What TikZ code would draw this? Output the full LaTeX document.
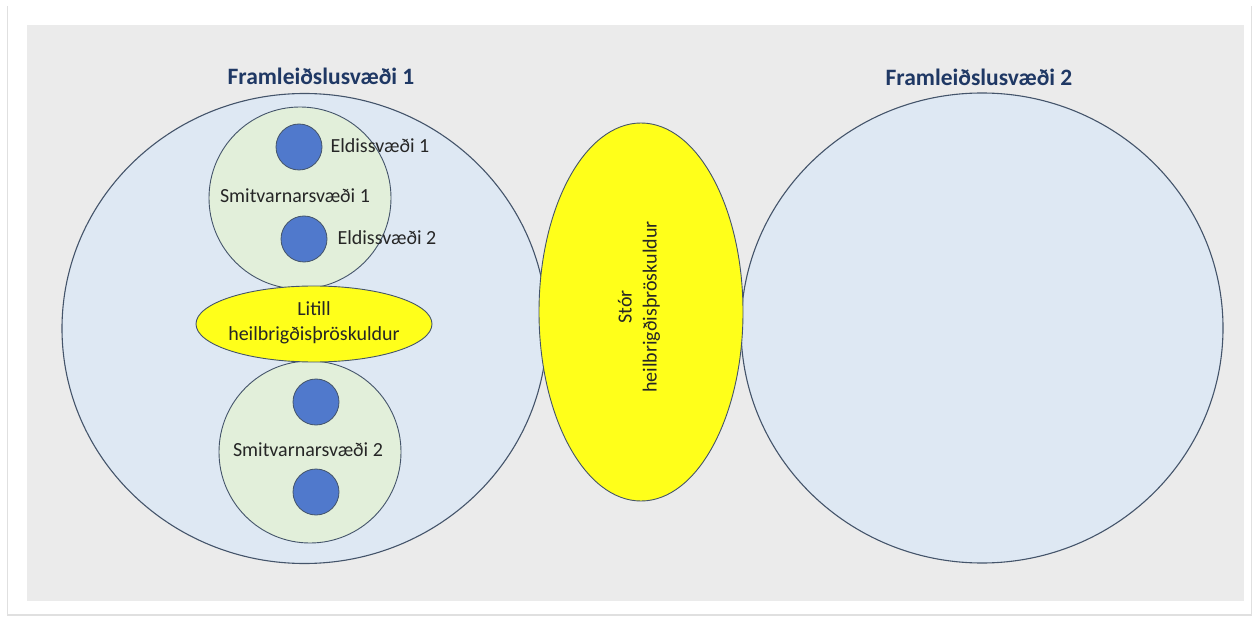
\documentclass[tikz,border=0pt]{standalone}
\usepackage{fontspec}
\setmainfont{Carlito}
\usetikzlibrary{shapes.geometric}
\definecolor{panel}{HTML}{EBEBEB}
\definecolor{zone}{HTML}{DEE8F3}
\definecolor{edge}{HTML}{44546A}
\definecolor{green}{HTML}{E2EFDA}
\definecolor{farm}{HTML}{5079CC}
\definecolor{yel}{HTML}{FFFF1A}
\definecolor{title}{HTML}{1F3864}
\begin{document}
\begin{tikzpicture}[x=1pt,y=-1pt,
  bigc/.style={ellipse,draw=edge,line width=1.1pt,fill=zone,minimum height=470pt,inner sep=0pt},
  smallc/.style={circle,draw=edge,line width=0.9pt,fill=green,minimum size=182pt,inner sep=0pt},
  farmc/.style={circle,draw=edge,line width=0.8pt,fill=farm,minimum size=46pt,inner sep=0pt},
  yell/.style={ellipse,draw=edge,line width=0.9pt,fill=yel,inner sep=0pt},
  lbl/.style={font=\fontsize{20}{25}\selectfont,text=black!85},
  ttl/.style={font=\fontsize{23.5}{28}\selectfont\bfseries,text=title}]
\useasboundingbox (0,0) rectangle (1257,617);
\fill[white] (0,0) rectangle (1257,617);
\fill[black!12] (7,6) rectangle (1252,616);
\fill[white] (8,5) rectangle (1251,614);
\fill[panel] (27,25) rectangle (1244,601);
% production zones
\node[bigc,minimum width=485pt] (z1) at (304.5,328.5) {};
\node[bigc,minimum width=482pt] (z2) at (982,328) {};
\node[ttl] (t1) at (321,76) {Framleiðslusvæði 1};
\node[ttl] (t2) at (979,77) {Framleiðslusvæði 2};
% infection zones
\node[smallc] (s1) at (300,198) {};
\node[smallc] (s2) at (310,452) {};
\node[lbl] (s1l) at (295,196) {Smitvarnarsvæði 1};
\node[lbl] (s2l) at (308,450) {Smitvarnarsvæði 2};
% farms
\node[farmc] (f1) at (299,147) {};
\node[farmc] (f2) at (304,239) {};
\node[farmc] (f3) at (316,402) {};
\node[farmc] (f4) at (316,492) {};
\node[lbl,anchor=west] (f1l) at (327,146) {Eldissvæði 1};
\node[lbl,anchor=west] (f2l) at (334,238) {Eldissvæði 2};
% small threshold
\node[yell,minimum width=236pt,minimum height=76pt] (h1) at (314,324) {};
\node[lbl,align=center] (h1l) at (314,322.5) {Litill\\heilbrigðisþröskuldur};
% large threshold
\node[yell,minimum width=204pt,minimum height=378pt] (h2) at (641,312) {};
\node[lbl,align=center,rotate=90] (h2l) at (639,307) {Stór\\heilbrigðisþröskuldur};
\end{tikzpicture}
\end{document}
